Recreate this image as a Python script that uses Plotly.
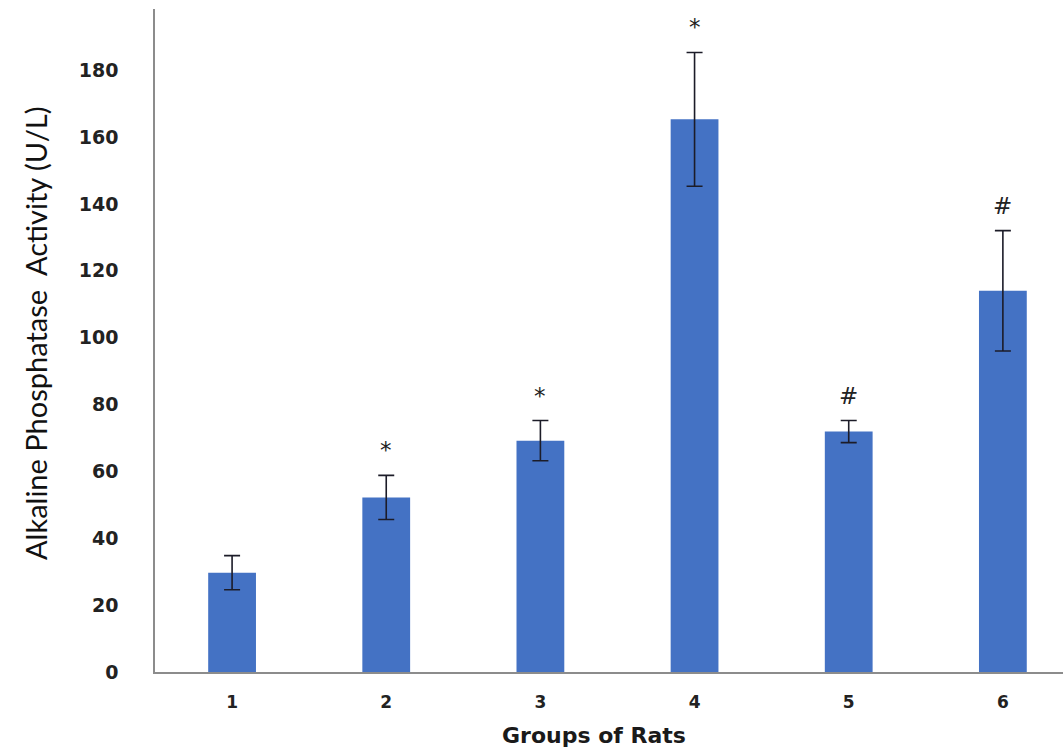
import plotly.graph_objects as go

groups = ["1", "2", "3", "4", "5", "6"]
means = [29.7, 52.2, 69.2, 165.3, 71.9, 114.0]
errors = [5.1, 6.6, 6.0, 20.0, 3.3, 18.0]
marks = ["", "*", "*", "*", "#", "#"]
y_ticks = [0, 20, 40, 60, 80, 100, 120, 140, 160, 180]

fig = go.Figure()
fig.add_trace(go.Bar(
    x=list(range(len(groups))), y=means, width=0.31,
    marker=dict(color="#4472C4", line=dict(width=0)),
    error_y=dict(type="data", array=errors, visible=True,
                 color="#1c1c28", thickness=1.6, width=8),
    showlegend=False,
))

for i, (m, e, s) in enumerate(zip(means, errors, marks)):
    if s:
        fig.add_annotation(x=i, y=m + e, text=s, showarrow=False,
                           yanchor="middle", yshift=25,
                           font=dict(family="DejaVu Sans", size=23, color="#222222"))

fig.add_annotation(xref="paper", yref="paper", x=(594 - 155) / (1063 - 155), y=0,
                   yshift=-63, yanchor="middle", text="<b>Groups of Rats</b>",
                   showarrow=False,
                   font=dict(family="DejaVu Sans", size=22, color="#1a1a1a"))

fig.add_annotation(xref="paper", yref="paper", x=0, xshift=-120, y=(672 - 334) / 663,
                   xanchor="center", yanchor="middle", textangle=-90,
                   text="Alkaline Phosphatase  Activity (U/L)", showarrow=False,
                   font=dict(family="Lato", size=29, color="#111111"))

fig.update_layout(
    width=1063, height=756,
    margin=dict(l=155, r=0, t=9, b=84),
    paper_bgcolor="white", plot_bgcolor="white",
    xaxis=dict(
        tickmode="array", tickvals=list(range(len(groups))), ticktext=groups,
        range=[-0.5, 5.39], showline=True, linecolor="#8c8c8c", linewidth=1.6,
        ticks="", showgrid=False, zeroline=False, automargin=False,
        tickfont=dict(family="DejaVu Sans", size=17, color="#222222", weight="bold"),
        ticklabelstandoff=14,
    ),
    yaxis=dict(
        range=[0, 198.3], tickmode="array", tickvals=y_ticks,
        showline=True, linecolor="#8c8c8c", linewidth=1.6,
        ticks="", showgrid=False, zeroline=False, automargin=False,
        tickfont=dict(family="DejaVu Sans", size=19, color="#222222", weight="bold"),
        ticklabelstandoff=31,
    ),
)

fig.write_html("out.html", config={"displayModeBar": False},
               post_script="document.body.style.margin='0';document.body.style.overflow='hidden';")
